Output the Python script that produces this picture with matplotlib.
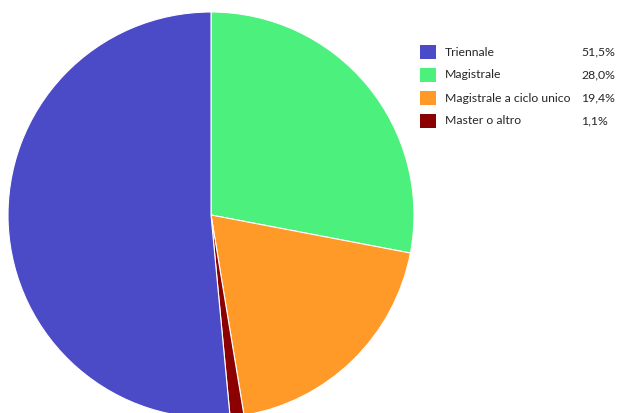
import matplotlib
matplotlib.use('Agg')
import matplotlib.pyplot as plt
from matplotlib.patches import Rectangle

plt.rcParams['font.family'] = ['Lato', 'DejaVu Sans']

# legend order
LABELS = ['Triennale', 'Magistrale', 'Magistrale a ciclo unico', 'Master o altro']
VALUES = [51.5, 28.0, 19.4, 1.1]
PCT_TEXT = ['51,5%', '28,0%', '19,4%', '1,1%']
COLORS = ['#4b4bc8', '#4cf07c', '#ff9a28', '#8b0000']

# pie drawing order (clockwise from top)
PIE_ORDER = [1, 2, 3, 0]

W, H = 641, 413
fig = plt.figure(figsize=(W / 100, H / 100), dpi=100)

cx, cy, r = 211, 215, 203
ax = fig.add_axes([(cx - r) / W, (H - cy - r) / H, 2 * r / W, 2 * r / H])
ax.pie([VALUES[i] for i in PIE_ORDER], colors=[COLORS[i] for i in PIE_ORDER],
       startangle=90, counterclock=False,
       wedgeprops={'edgecolor': 'white', 'linewidth': 0.8})
ax.set_xlim(-1, 1)
ax.set_ylim(-1, 1)
ax.set_aspect('equal')
ax.axis('off')

# legend, drawn by hand
y0, dy = 52, 23
for i, (lab, pct, col) in enumerate(zip(LABELS, PCT_TEXT, COLORS)):
    y = y0 + i * dy
    fig.patches.append(Rectangle((420 / W, (H - y - 7) / H), 16 / W, 14 / H,
                                 transform=fig.transFigure, facecolor=col,
                                 edgecolor='none'))
    fig.text(445 / W, (H - y) / H, lab, fontsize=8.8, va='center', ha='left',
             color='#262626')
    fig.text(581 / W, (H - y) / H, pct, fontsize=8.8, va='center', ha='left',
             color='#262626')

fig.savefig('out.png', dpi=100)
